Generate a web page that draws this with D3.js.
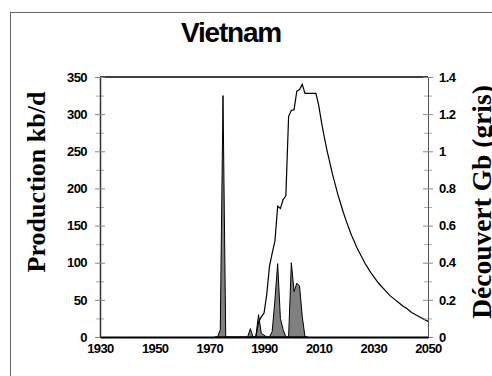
<!DOCTYPE html>
<html>
<head>
<meta charset="utf-8">
<script src="https://cdn.jsdelivr.net/npm/d3@7"></script>
<style>
  body { margin: 0; background: #fff; }
  svg { display: block; }
  .tick text { font-family: "Liberation Sans", Arial, sans-serif; font-weight: bold; font-size: 13px; letter-spacing: -0.6px; fill: #000; }
</style>
</head>
<body>
<svg width="492" height="376"></svg>
<script>
/*global d3 */

// discoveries (Gb, right axis)
var discYears = d3.range(1972, 2007);
var discGb = [0, 0, 0.04, 1.3, 0, 0, 0, 0, 0, 0, 0, 0, 0, 0.045, 0, 0, 0.12, 0.02, 0.01, 0,
  0, 0.03, 0.2, 0.395, 0.1, 0.04, 0, 0, 0.4, 0.245, 0.29, 0.275, 0.11, 0, 0];

// production (kb/d, left axis)
var prodYears = d3.range(1986, 2051);
var prodKbd = [0, 0, 20, 27, 32, 57, 95, 113, 129, 176, 173, 185, 190, 297, 305, 306, 331, 333, 340, 328,
  328, 328, 328, 328, 312, 290, 270, 252, 236, 220, 206, 192, 180, 168, 157, 147, 137, 129, 120, 113,
  106, 99, 93, 87, 82, 77, 72, 68, 64, 60, 56, 53, 50, 47, 44, 41, 39, 36, 33, 31,
  29, 27, 25, 23, 21];

var xTicks = [1930, 1950, 1970, 1990, 2010, 2030, 2050];
var leftTicks = [0, 50, 100, 150, 200, 250, 300, 350];
var rightTicks = [0, 0.2, 0.4, 0.6, 0.8, 1, 1.2, 1.4];

var svg = d3.select("svg"),
  plotL = 100, plotR = 428, plotT = 77, plotB = 337;

var x = d3.scaleLinear().domain([1930, 2050]).range([plotL, plotR]);
var yL = d3.scaleLinear().domain([0, 350]).range([plotB, plotT]);
var yR = d3.scaleLinear().domain([0, 1.4]).range([plotB, plotT]);

// outer frame
svg.append("rect")
  .attr("x", 10.5).attr("y", 12.5)
  .attr("width", 500).attr("height", 400)
  .attr("fill", "none")
  .attr("stroke", "#666");

svg.append("text")
  .attr("x", 231).attr("y", 42)
  .attr("text-anchor", "middle")
  .attr("font-family", "'Liberation Sans', Arial, sans-serif")
  .attr("font-weight", "bold")
  .attr("font-size", 28)
  .attr("letter-spacing", "-1.2px")
  .text("Vietnam");

// discoveries area
var disc = discYears.map(function(d, i) { return [d, discGb[i]]; });
svg.append("path")
  .datum(disc)
  .attr("fill", "#808080")
  .attr("stroke", "#000")
  .attr("stroke-width", 1)
  .attr("stroke-linejoin", "round")
  .attr("d", d3.area()
    .x(function(d) { return x(d[0]); })
    .y0(yR(0))
    .y1(function(d) { return yR(d[1]); }));

// production line
var prod = prodYears.map(function(d, i) { return [d, prodKbd[i]]; });
svg.append("path")
  .datum(prod)
  .attr("fill", "none")
  .attr("stroke", "#000")
  .attr("stroke-width", 1.2)
  .attr("d", d3.line()
    .x(function(d) { return x(d[0]); })
    .y(function(d) { return yL(d[1]); }));

// top frame line
svg.append("line")
  .attr("x1", plotL).attr("x2", plotR)
  .attr("y1", plotT).attr("y2", plotT)
  .attr("stroke", "#000").attr("stroke-width", 1.5);

// minor ticks
var minorL = leftTicks.slice(1).map(function(d) { return d - 25; });
var minorR = rightTicks.slice(1).map(function(d) { return d - 0.1; });

svg.append("g")
  .attr("transform", "translate(" + plotL + ",0)")
  .call(d3.axisLeft(yL).tickValues(minorL).tickSize(4).tickFormat(""))
  .call(function(g) { g.select(".domain").remove(); })
  .selectAll("line").attr("x1", 4).attr("stroke", "#aaa");

svg.append("g")
  .attr("transform", "translate(" + plotR + ",0)")
  .call(d3.axisRight(yR).tickValues(minorR).tickSize(4).tickFormat(""))
  .call(function(g) { g.select(".domain").remove(); })
  .selectAll("line").attr("x1", -4).attr("stroke", "#aaa");

// left axis
var gL = svg.append("g")
  .attr("transform", "translate(" + plotL + ",0)")
  .call(d3.axisLeft(yL).tickValues(leftTicks).tickSize(5).tickPadding(8).tickSizeOuter(0));
gL.select(".domain").attr("stroke", "#333").attr("stroke-width", 1.5);
gL.selectAll(".tick line").attr("x1", 5).attr("stroke", "#888");

// right axis
var gR = svg.append("g")
  .attr("transform", "translate(" + plotR + ",0)")
  .call(d3.axisRight(yR).tickValues(rightTicks).tickSize(5).tickPadding(6).tickSizeOuter(0)
    .tickFormat(function(d) { return String(+d.toFixed(1)); }));
gR.select(".domain").attr("stroke", "#555").attr("stroke-width", 1);
gR.selectAll(".tick line").attr("x1", -5).attr("stroke", "#888");

// bottom axis
var gB = svg.append("g")
  .attr("transform", "translate(0," + plotB + ")")
  .call(d3.axisBottom(x).tickValues(xTicks).tickSize(0).tickPadding(7).tickFormat(d3.format("d")));
gB.select(".domain").attr("stroke", "#000").attr("stroke-width", 2);

// axis titles
svg.append("text")
  .attr("transform", "translate(45,182)rotate(-90)")
  .attr("text-anchor", "middle")
  .attr("font-family", "'Liberation Serif', 'Times New Roman', serif")
  .attr("font-weight", "bold")
  .attr("font-size", 26)
  .text("Production kb/d");

svg.append("text")
  .attr("transform", "translate(491,202)rotate(-90)")
  .attr("text-anchor", "middle")
  .attr("font-family", "'Liberation Serif', 'Times New Roman', serif")
  .attr("font-weight", "bold")
  .attr("font-size", 27.5)
  .text("Découvert Gb (gris)");
</script>
</body>
</html>
